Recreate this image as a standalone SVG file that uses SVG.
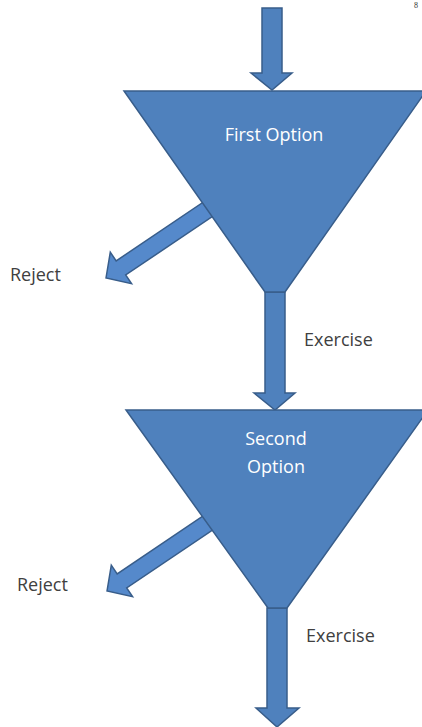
<svg xmlns="http://www.w3.org/2000/svg" width="422" height="727" viewBox="0 0 422 727">
<defs>
<style>
.shape{fill:#4F81BD;stroke:#385D8A;stroke-width:1.5;stroke-linejoin:miter}
.rej{fill:#5589CB;stroke:#385D8A;stroke-width:1.5}
.inner{font-family:"Open Sans","Liberation Sans",sans-serif;font-size:18px;fill:#FFFFFF;text-anchor:middle}
.lbl{font-family:"Open Sans","Liberation Sans",sans-serif;font-size:18px;fill:#404040}
</style>
</defs>
<rect width="422" height="727" fill="#FFFFFF"/>
<text x="414" y="8" font-family="Liberation Serif, serif" font-size="8" fill="#333333">8</text>
<g id="connectors">
<polygon class="rej" transform="translate(106 278) rotate(-34)" points="0,0 18,-19 18,-8.5 135,-8.5 135,8.5 18,8.5 18,19"/>
<polygon class="rej" transform="translate(107 591) rotate(-34)" points="0,0 18,-19 18,-8.5 135,-8.5 135,8.5 18,8.5 18,19"/>
<polygon class="shape" points="262,8 282,8 282,73 292,73 272,90 251,73 262,73"/>
<polygon class="shape" points="265,292 285,292 285,393 295,393 275,410 254,393 265,393"/>
<polygon class="shape" points="267,608 287,608 287,708 299,708 277,727 256,708 267,708"/>
<text class="lbl" x="10" y="281">Reject</text>
<text class="lbl" x="17" y="591">Reject</text>
<text class="lbl" x="304" y="346">Exercise</text>
<text class="lbl" x="306" y="642">Exercise</text>
</g>
<g id="first-option">
<polygon class="shape" points="124,91 426,91 285,292 265,292"/>
<text class="inner" x="274" y="141">First Option</text>
</g>
<g id="second-option">
<polygon class="shape" points="126,410 428,410 287,608 268,608"/>
<text class="inner" x="276" y="445">Second</text>
<text class="inner" x="276" y="473">Option</text>
</g>
</svg>
